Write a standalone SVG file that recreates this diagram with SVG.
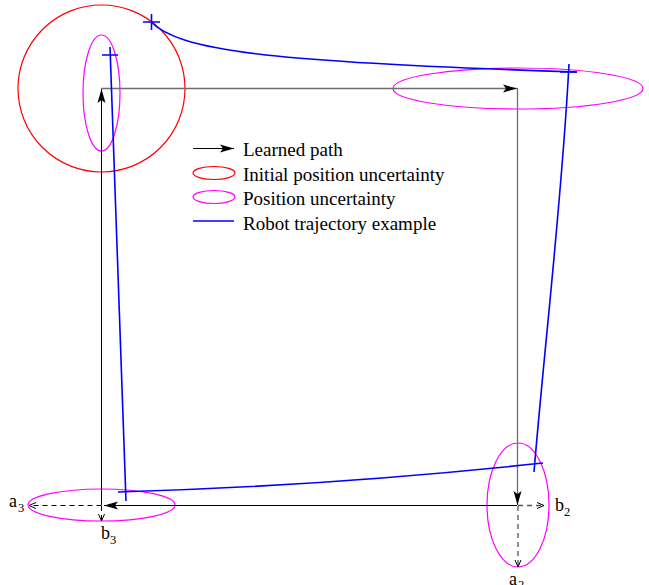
<svg xmlns="http://www.w3.org/2000/svg" width="649" height="585" viewBox="0 0 649 585">
<defs>
<style>
text{font-family:"Liberation Serif","Times New Roman",serif;fill:#000}
.lbl{font-size:18px}
.sub{font-size:12.5px}
.leg{font-size:19px}
.red{fill:none;stroke:#ff0000;stroke-width:1.2}
.mag{fill:none;stroke:#ff00ff;stroke-width:1.2}
.traj{fill:none;stroke:#0000ff;stroke-width:1.6}
.path{fill:none;stroke:#000;stroke-width:1}
.pathg{fill:none;stroke:#6e6e6e;stroke-width:1.3}
.dash{fill:none;stroke:#000;stroke-width:1;stroke-dasharray:5,4}
.dashg{fill:none;stroke:#555;stroke-width:1.3;stroke-dasharray:5,4}
</style>
<marker id="ah" viewBox="-15 -5 16 10" refX="0" refY="0" markerWidth="16" markerHeight="10" markerUnits="userSpaceOnUse" orient="auto">
<path d="M-14,-4 L0,0 L-14,4 L-11,0 Z" fill="#000"/>
</marker>
<marker id="oh" viewBox="-8 -4 9 8" refX="0" refY="0" markerWidth="9" markerHeight="8" markerUnits="userSpaceOnUse" orient="auto">
<path d="M-7,-3 L0,0 L-7,3" fill="none" stroke="#000" stroke-width="1"/>
</marker>
</defs>
<g id="uncertainty">
<circle id="initial-uncertainty" class="red" cx="101.5" cy="88.5" r="83.5"/>
<ellipse id="pos1" class="mag" cx="101.5" cy="93" rx="18.5" ry="58"/>
<ellipse id="pos2" class="mag" cx="518" cy="88.5" rx="125" ry="20.5"/>
<ellipse id="pos3" class="mag" cx="518" cy="505" rx="31" ry="62"/>
<ellipse id="pos4" class="mag" cx="101.5" cy="505" rx="73.5" ry="16"/>
</g>
<g id="connectors">
<line class="path" x1="101.5" y1="505" x2="101.5" y2="89" marker-end="url(#ah)"/>
<line class="pathg" x1="101" y1="88.5" x2="517" y2="88.5" marker-end="url(#ah)"/>
<line class="pathg" x1="517.5" y1="88" x2="517.5" y2="505" marker-end="url(#ah)"/>
<line class="path" x1="517" y1="505.5" x2="104" y2="505.5" marker-end="url(#ah)"/>
<line class="dash" x1="101.5" y1="505.5" x2="29" y2="505.5" marker-end="url(#oh)"/>
<line class="dash" x1="101.5" y1="506" x2="101.5" y2="521" marker-end="url(#oh)"/>
<line class="dashg" x1="518" y1="505.5" x2="544" y2="505.5" marker-end="url(#oh)"/>
<line class="dashg" x1="518" y1="506" x2="518" y2="567" marker-end="url(#oh)"/>
</g>
<g id="trajectory">
<path class="traj" d="M151,22 C180,50 260,62 577,72"/>
<path class="traj" d="M569,64 C562,200 545,340 534,472"/>
<path class="traj" d="M543,463 Q330,486 118,492"/>
<path class="traj" d="M126,501 Q118,280 110,47"/>
<path class="traj" d="M143,22 H160 M151.5,14 V30 M102,55 H118 M560,72 H577"/>
</g>
<g id="labels">
<text class="lbl" x="9" y="507">a</text><text class="sub" x="18" y="512">3</text>
<text class="lbl" x="101" y="539">b</text><text class="sub" x="110" y="544">3</text>
<text class="lbl" x="555" y="511">b</text><text class="sub" x="564" y="516">2</text>
<text class="lbl" x="509" y="585">a</text><text class="sub" x="518" y="589">2</text>
</g>
<g id="legend">
<line class="path" x1="193" y1="148.5" x2="234" y2="148.5" marker-end="url(#ah)"/>
<text class="leg" x="243" y="156">Learned path</text>
<ellipse class="red" cx="214" cy="173" rx="21" ry="6.5"/>
<text class="leg" x="243" y="181">Initial position uncertainty</text>
<ellipse class="mag" cx="214" cy="197" rx="21" ry="6.5"/>
<text class="leg" x="243" y="205">Position uncertainty</text>
<line class="traj" x1="193" y1="221" x2="234" y2="221"/>
<text class="leg" x="243" y="230">Robot trajectory example</text>
</g>
</svg>
